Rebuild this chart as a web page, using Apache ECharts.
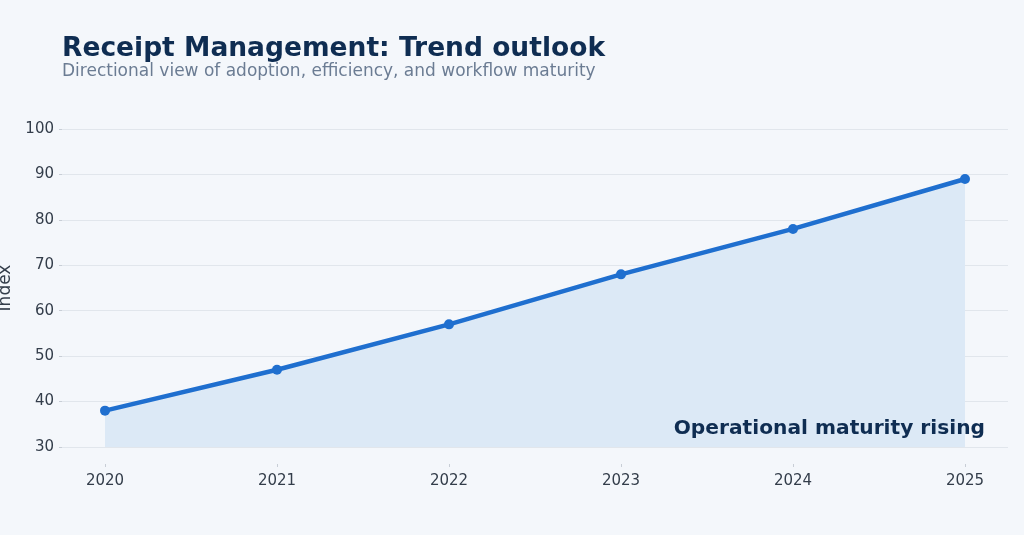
<!DOCTYPE html>
<html>
<head>
    <meta charset="utf-8">
    <style>
        html, body { margin: 0; padding: 0; background: #f4f7fb; }
    </style>
</head>
<body>
    <div id="main" style="width: 1024px;height:535px;"></div>
    <script src="https://cdn.jsdelivr.net/npm/echarts@6/dist/echarts.min.js"></script>
    <script type="text/javascript">
        // chart data
        var years = [2020, 2021, 2022, 2023, 2024, 2025];
        var indexValues = [38, 47, 57, 68, 78, 89];
        var yTicks = [30, 40, 50, 60, 70, 80, 90, 100];

        var font = 'DejaVu Sans';
        var seriesData = [];
        for (var i = 0; i < years.length; i++) {
            seriesData.push([years[i], indexValues[i]]);
        }

        var myChart = echarts.init(document.getElementById('main'));

        var option = {
            backgroundColor: '#f4f7fb',
            animation: false,
            title: [{
                text: 'Receipt Management: Trend outlook',
                left: 57,
                top: 31,
                textStyle: { fontFamily: font, fontSize: 26.5, fontWeight: 'bold', color: '#0f2d52' }
            }, {
                text: 'Directional view of adoption, efficiency, and workflow maturity',
                left: 57,
                top: 58,
                textStyle: { fontFamily: font, fontSize: 17, fontWeight: 'normal', color: '#6b7c93' }
            }],
            grid: { left: 62, right: 16, top: 129, bottom: 88, containLabel: false, outerBoundsMode: 'none' },
            xAxis: {
                type: 'value',
                min: 2019.75,
                max: 2025.25,
                offset: 17,
                axisLine: { show: false },
                axisTick: { show: true, length: 3, customValues: years, lineStyle: { color: '#c8ced6' } },
                axisLabel: {
                    customValues: years,
                    margin: 10,
                    fontFamily: font, fontSize: 15, color: '#333d4a',
                    formatter: function (v) { return String(Math.round(v)); }
                },
                splitLine: { show: false }
            },
            yAxis: {
                type: 'value',
                min: yTicks[0],
                max: yTicks[yTicks.length - 1],
                interval: 10,
                name: 'Index',
                nameLocation: 'middle',
                nameGap: 46,
                nameTextStyle: { fontFamily: font, fontSize: 17, color: '#333d4a' },
                axisLine: { show: false },
                axisTick: { show: true, length: 3, lineStyle: { color: '#c8ced6' } },
                axisLabel: { margin: 8, fontFamily: font, fontSize: 15, color: '#333d4a' },
                splitLine: { lineStyle: { color: '#e1e6ec', width: 1 } }
            },
            series: [{
                type: 'line',
                data: seriesData,
                symbol: 'circle',
                symbolSize: 10,
                lineStyle: { color: '#1f6fcf', width: 4.5 },
                itemStyle: { color: '#1f6fcf' },
                areaStyle: { color: '#dce9f6', opacity: 1, origin: 'start' }
            }],
            graphic: [{
                type: 'text',
                right: 39,
                top: 419,
                z: 100,
                style: {
                    text: 'Operational maturity rising',
                    fontFamily: font, fontSize: 20.2, fontWeight: 'bold', fill: '#0f2d52'
                }
            }]
        };

        myChart.setOption(option);
    </script>
</body>
</html>
